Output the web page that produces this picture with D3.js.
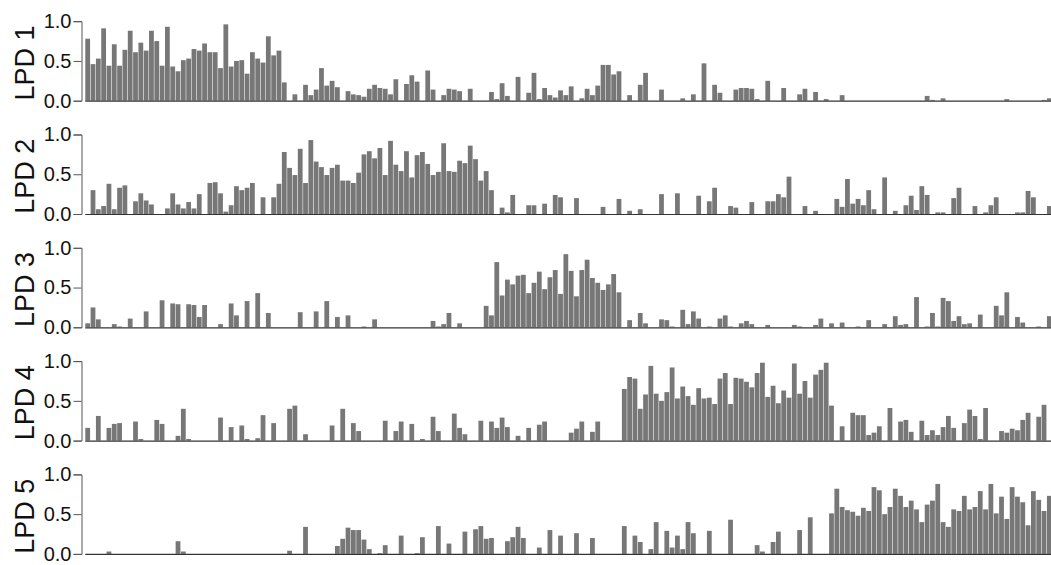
<!DOCTYPE html>
<html>
<head>
<meta charset="utf-8">
<script src="https://cdn.jsdelivr.net/npm/d3@7"></script>
<style>
  body { margin: 0; background: white; }
  svg { font-family: "Liberation Sans", Arial, sans-serif; }
</style>
</head>
<body>
<svg width="1051" height="565"></svg>
<script>
// one value per sample, 182 samples, 5 latent profiles
let labels = ["LPD 1", "LPD 2", "LPD 3", "LPD 4", "LPD 5"];
let yTicks = [0, 0.5, 1.0];

let lpd1 = [.78,.46,.53,.91,.44,.71,.44,.64,.88,.61,
  .73,.63,.88,.75,.44,.93,.43,.37,.51,.53,
  .65,.63,.72,.61,.61,.41,.96,.43,.50,.51,
  .34,.61,.53,.48,.81,.57,.63,.23,0,.08,
  0,.20,.07,.14,.41,.19,.25,.17,0,.12,
  .08,.07,.05,.15,.20,.16,.15,.08,.27,0,
  .21,.32,.24,0,.38,.14,0,.07,.15,.14,
  .12,0,.15,0,0,0,.11,.02,.22,.06,
  0,.30,0,.10,.35,.02,.16,.07,.04,.13,
  .07,.18,0,.03,.15,.07,.19,.45,.45,.33,
  .37,0,.07,0,.20,.35,0,0,.14,0,
  0,0,.03,0,.08,0,.47,0,.20,.10,
  0,0,.14,.16,.16,.15,.02,0,.25,0,
  0,.16,0,0,.08,.15,0,.11,0,.02,
  0,0,.07,0,0,0,0,0,0,0,
  0,0,0,0,0,0,0,0,.06,.01,
  0,.03,0,0,0,0,0,0,0,0,
  0,0,0,.02,0,0,0,0,0,0,
  .01,.03];

let lpd2 = [0,.30,.06,.10,.38,.06,.33,.36,0,.16,
  .26,.17,.12,0,0,.07,.26,.12,.07,.15,
  .07,.25,0,.39,.40,.26,.03,.11,.35,.30,
  .33,.39,0,.21,0,.21,.38,.78,.58,.49,
  .82,.39,.93,.66,.59,.49,.58,.62,.42,.42,
  .39,.52,.75,.79,.70,.83,.49,.92,.62,.54,
  .79,.46,.74,.78,.63,.49,.53,.89,.54,.53,
  .67,.64,.86,.69,.42,.54,.30,0,.08,.02,
  .24,0,0,.11,.11,0,.13,0,.24,.21,
  0,0,.20,0,0,0,0,.09,0,0,
  .19,0,.04,0,.06,0,0,0,.25,0,
  0,.26,0,0,0,.23,0,.16,.33,0,
  0,.10,.08,0,0,.15,0,0,.16,.16,
  .25,.21,.47,0,0,.10,0,.04,0,0,
  0,.19,.09,.44,.13,.19,.11,.30,.06,0,
  .46,0,.04,0,.11,.23,.05,.35,.24,0,
  .02,.02,0,.20,.33,0,0,.10,0,.02,
  .11,.21,0,0,0,.02,.02,.29,.21,0,
  0,.10];

let lpd3 = [.05,.25,.10,0,0,.04,.01,0,.11,0,
  0,.20,0,0,.34,0,.30,.29,0,.29,
  .28,.13,.28,0,0,.04,0,.30,.15,0,
  .33,0,.43,0,.18,0,0,0,0,0,
  .19,0,0,.20,0,.33,0,.13,0,.15,
  0,0,.01,0,.10,0,0,0,0,0,
  0,0,0,0,0,.08,.01,.04,.18,0,
  .05,0,0,0,0,.27,.15,.82,.40,.60,
  .54,.65,.66,.43,.56,.70,.48,.63,.72,.42,
  .92,.71,.39,.72,.85,.62,.56,.47,.54,.67,
  .44,0,.09,0,.18,.05,0,0,.10,.09,
  .01,0,.22,.04,.20,.11,0,.01,0,.11,
  .15,.01,0,.05,.08,.04,0,0,.03,0,
  0,0,0,.03,.01,0,0,.03,.11,0,
  .05,0,.06,0,0,.01,0,.09,0,0,
  .04,0,.14,.03,.04,0,.38,0,.01,.18,
  .01,.37,.33,.08,.14,.04,.05,0,.16,0,
  0,.27,.15,.44,0,.13,.06,0,0,.01,
  0,.14];

let lpd4 = [.16,0,.31,0,.16,.21,.22,0,0,.24,
  .02,0,0,.26,.21,0,0,.06,.40,.02,
  0,0,0,0,0,.29,0,.17,0,.19,
  .02,0,.03,.32,0,.22,0,0,.40,.44,
  0,.08,0,0,0,0,.19,0,.40,0,
  .22,.12,0,0,0,0,.25,0,.12,.24,
  0,.21,0,.02,0,.30,.12,0,0,.34,
  .16,.08,0,0,.25,0,.24,.16,.29,.17,
  0,.06,0,.16,0,.20,.24,0,0,0,
  0,.10,.15,.24,0,.11,.24,0,0,0,
  0,.65,.80,.78,.40,.58,.94,.59,.50,.61,
  .92,.53,.68,.56,.45,.66,.53,.54,.46,.78,
  .85,.46,.79,.78,.74,.67,.85,.98,.55,.69,
  .47,.63,.54,.97,.59,.75,.54,.83,.89,.98,
  .44,0,.18,0,.35,.32,.32,.07,.10,.18,
  0,.41,0,.24,.26,.11,0,.25,.07,.13,
  .07,.17,.31,.16,0,.22,.39,.31,.02,.41,
  0,0,.12,.10,.15,.13,.26,.35,0,.30,
  .45,0];

let lpd5 = [0,0,0,0,.03,0,0,0,0,0,
  0,0,0,0,0,0,0,.16,.03,0,
  0,0,0,0,0,0,0,0,0,0,
  0,0,0,0,0,0,0,0,.04,0,
  0,.34,0,0,0,0,0,.10,.19,.33,
  .30,.30,.18,.06,0,.01,.11,0,0,.23,
  0,0,.01,.21,0,0,.35,0,.13,0,
  0,.28,0,.31,.35,.19,.20,0,0,.16,
  .21,.34,.20,0,0,.08,0,.30,0,.23,
  0,0,.26,0,0,.20,0,0,0,0,
  0,.35,0,.23,.15,0,.06,.40,0,.29,
  .08,.23,.06,.40,.26,0,0,.29,0,0,
  0,.43,0,0,0,0,.11,.03,0,.15,
  .28,0,0,0,.30,0,.46,0,0,0,
  .51,.82,.59,.55,.53,.48,.58,.54,.84,.80,
  .50,.59,.82,.73,.59,.67,.56,.40,.62,.67,
  .88,.40,.34,.56,.54,.73,.56,.59,.79,.56,
  .88,.51,.72,.44,.84,.72,.65,.36,.79,.68,
  .54,.73];

let series = [lpd1, lpd2, lpd3, lpd4, lpd5];

let svg = d3.select("svg");

let x = d3.scaleBand()
    .domain(d3.range(lpd1.length))
    .range([85.3, 85.3 + lpd1.length * 5.31])
    .paddingInner(0.1)
    .paddingOuter(0)
    .align(0);

let panelTop = 21.2;   // y of 1.0 in first panel
let panelH = 79.5;     // height of 0..1
let panelStep = 113.3;

series.forEach(function (vals, k) {
    let y0 = panelTop + k * panelStep;
    let y = d3.scaleLinear().domain([0, 1]).range([y0 + panelH, y0]);
    let g = svg.append("g");

    // barres
    g.selectAll("rect")
        .data(vals)
        .enter()
        .append("rect")
        .attr("x", (d, i) => x(i))
        .attr("width", x.bandwidth())
        .attr("y", d => y(d))
        .attr("height", d => y(0) - y(d))
        .style("fill", "#777777");

    // ligne de base
    g.append("line")
        .attr("x1", x(0))
        .attr("x2", 1051)
        .attr("y1", y(0) + 0.5)
        .attr("y2", y(0) + 0.5)
        .style("stroke", "#333")
        .style("stroke-width", 1.2);

    // axe y
    let axis = g.append("g")
        .attr("transform", "translate(81.5,0)")
        .call(d3.axisLeft(y)
            .tickValues(yTicks)
            .tickFormat(d3.format(".1f"))
            .tickSize(8)
            .tickSizeOuter(8)
            .tickPadding(2));
    axis.select(".domain").style("stroke", "#555");
    axis.selectAll(".tick line").style("stroke", "#555");
    axis.selectAll(".tick text")
        .style("font-size", "20px")
        .style("fill", "#111")
        .style("font-family", "'Liberation Sans', Arial, sans-serif");

    // titre vertical
    g.append("text")
        .attr("transform", "translate(33.5," + (y0 + panelH / 2 + 2) + ") rotate(-90)")
        .attr("text-anchor", "middle")
        .style("font-size", "27px")
        .style("fill", "#111")
        .text(labels[k]);
});
</script>
</body>
</html>
